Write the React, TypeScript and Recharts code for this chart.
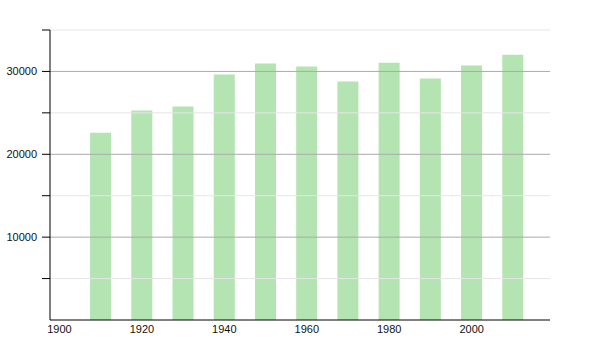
import React from "react";
import { BarChart, Bar, XAxis, YAxis, ReferenceLine } from "recharts";

const years = [1910, 1920, 1930, 1940, 1950, 1960, 1970, 1980, 1990, 2000, 2010];
const population = [22600, 25290, 25770, 29630, 30960, 30600, 28790, 31040, 29150, 30720, 32010];
const xTicks = [1900, 1920, 1940, 1960, 1980, 2000];
const yTicks = [5000, 10000, 15000, 20000, 25000, 30000, 35000];
const majorGrid = [10000, 20000, 30000];
const minorGrid = [5000, 15000, 25000, 35000];

const data = years.map((y, i) => ({ year: y, pop: population[i] }));

export default function App() {
  return (
    <div style={{ position: "absolute", left: 0, top: 0 }}>
      <BarChart
        width={600}
        height={350}
        data={data}
        margin={{ top: 30, right: 50, bottom: 0, left: 0 }}
        style={{ fontFamily: "Liberation Sans, Arial, sans-serif" }}
      >
        {minorGrid.map((v) => (
          <ReferenceLine key={"m" + v} y={v} stroke="#e6e6e6" strokeWidth={1} />
        ))}
        {majorGrid.map((v) => (
          <ReferenceLine key={"M" + v} y={v} stroke="#aaaaaa" strokeWidth={1} />
        ))}
        <XAxis
          dataKey="year"
          type="number"
          height={30}
          domain={[1897.7, 2019]}
          ticks={xTicks}
          allowDataOverflow
          tickLine={false}
          tickSize={0}
          tickMargin={5}
          axisLine={{ stroke: "#000", strokeWidth: 1 }}
          tick={{ fill: "#111", fontSize: 11 }}
          interval={0}
        />
        <YAxis
          width={50}
          domain={[0, 35000]}
          ticks={yTicks}
          interval={0}
          tickSize={8}
          tickMargin={5}
          tickLine={{ stroke: "#000" }}
          axisLine={{ stroke: "#000", strokeWidth: 1 }}
          tick={{ fill: "#111", fontSize: 11 }}
          tickFormatter={(v: number) => (v % 10000 === 0 ? String(v) : "")}
        />
        <Bar dataKey="pop" fill="#b3e4b1" barSize={21} isAnimationActive={false} />
      </BarChart>
    </div>
  );
}
